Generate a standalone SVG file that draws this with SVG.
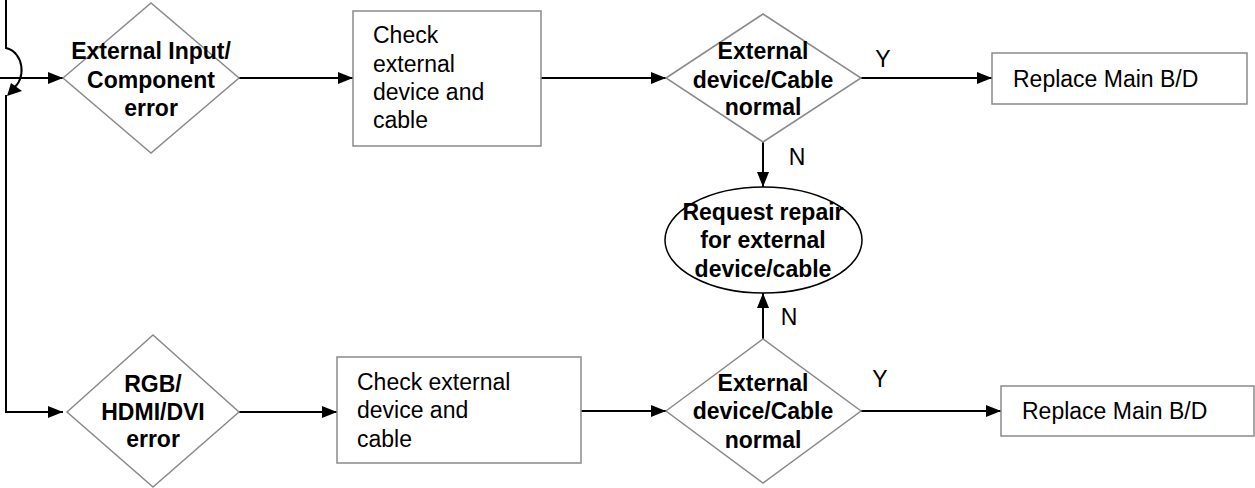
<svg xmlns="http://www.w3.org/2000/svg" width="1255" height="488" viewBox="0 0 1255 488">
<defs>
<marker id="arr" markerUnits="userSpaceOnUse" markerWidth="15" markerHeight="12" refX="15" refY="6" orient="auto">
<path d="M0,0 L15,6 L0,12 z" fill="#000"/>
</marker>
<style>
.shape{fill:#fff;stroke:#8a8a8a;stroke-width:1.5}
.ell{fill:#fff;stroke:#000;stroke-width:1.5}
.con{fill:none;stroke:#000;stroke-width:2}
.b{font-family:"Liberation Sans",Arial,sans-serif;font-size:23px;font-weight:bold;text-anchor:middle;fill:#000}
.r{font-family:"Liberation Sans",Arial,sans-serif;font-size:23px;fill:#000}
.rl{font-family:"Liberation Sans",Arial,sans-serif;font-size:23px;fill:#000;text-anchor:middle}
</style>
</defs>
<rect width="1255" height="488" fill="#fff"/>
<g id="connectors">
<path class="con" d="M6,0 V48 C24,52 27,80 12,89"/>
<polygon points="7,96 11,83 22,91" fill="#000"/>
<path class="con" d="M6,95 V412 H63" marker-end="url(#arr)"/>
<path class="con" d="M0,78 H63" marker-end="url(#arr)"/>
<path class="con" d="M239,78 H353" marker-end="url(#arr)"/>
<path class="con" d="M541,78 H666" marker-end="url(#arr)"/>
<path class="con" d="M861,78 H992" marker-end="url(#arr)"/>
<path class="con" d="M763,142 V187" marker-end="url(#arr)"/>
<path class="con" d="M763,339 V293" marker-end="url(#arr)"/>
<path class="con" d="M239,412 H337" marker-end="url(#arr)"/>
<path class="con" d="M581,411 H666" marker-end="url(#arr)"/>
<path class="con" d="M861,411 H1001" marker-end="url(#arr)"/>
<text class="rl" x="883" y="67">Y</text>
<text class="rl" x="797" y="165">N</text>
<text class="rl" x="789" y="325">N</text>
<text class="rl" x="880" y="387">Y</text>
</g>
<g id="d1">
<polygon class="shape" points="63,78 151,3 239,78 151,153"/>
<text class="b" x="151" y="59">External Input/</text>
<text class="b" x="151" y="88">Component</text>
<text class="b" x="151" y="116">error</text>
</g>
<g id="box1">
<rect class="shape" x="353" y="11" width="188" height="135"/>
<text class="r" x="373" y="43">Check</text>
<text class="r" x="373" y="72">external</text>
<text class="r" x="373" y="100">device and</text>
<text class="r" x="373" y="128">cable</text>
</g>
<g id="d2">
<polygon class="shape" points="666,78 763,14 861,78 763,142"/>
<text class="b" x="763" y="59">External</text>
<text class="b" x="763" y="88">device/Cable</text>
<text class="b" x="763" y="115">normal</text>
</g>
<g id="rep1">
<rect class="shape" x="992" y="53" width="255" height="51"/>
<text class="r" x="1013" y="87">Replace Main B/D</text>
</g>
<g id="ellipse">
<ellipse class="ell" cx="763.5" cy="240" rx="98.5" ry="53"/>
<text class="b" x="763" y="220">Request repair</text>
<text class="b" x="763" y="248">for external</text>
<text class="b" x="763" y="277">device/cable</text>
</g>
<g id="d4">
<polygon class="shape" points="67,412 153,335 239,412 153,487"/>
<text class="b" x="153" y="392">RGB/</text>
<text class="b" x="153" y="420">HDMI/DVI</text>
<text class="b" x="153" y="447">error</text>
</g>
<g id="box2">
<rect class="shape" x="337" y="357" width="244" height="106"/>
<text class="r" x="357" y="390">Check external</text>
<text class="r" x="357" y="418">device and</text>
<text class="r" x="357" y="447">cable</text>
</g>
<g id="d3">
<polygon class="shape" points="666,411 763,339 861,411 763,483"/>
<text class="b" x="763" y="391">External</text>
<text class="b" x="763" y="419">device/Cable</text>
<text class="b" x="763" y="448">normal</text>
</g>
<g id="rep2">
<rect class="shape" x="1001" y="386" width="253" height="50"/>
<text class="r" x="1022" y="419">Replace Main B/D</text>
</g>
</svg>
